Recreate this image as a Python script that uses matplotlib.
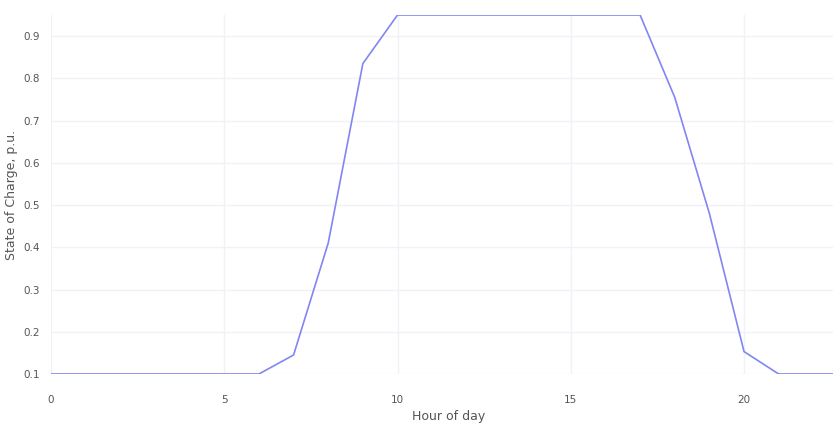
import matplotlib.pyplot as plt

hours = list(range(24))
soc = [0.1, 0.1, 0.1, 0.1, 0.1, 0.1, 0.1, 0.145, 0.41, 0.835,
       0.95, 0.95, 0.95, 0.95, 0.95, 0.95, 0.95, 0.95, 0.755, 0.48,
       0.153, 0.1, 0.1, 0.1]

x_ticks = [0, 5, 10, 15, 20]
y_ticks = [0.1, 0.2, 0.3, 0.4, 0.5, 0.6, 0.7, 0.8, 0.9]

fig = plt.figure(figsize=(8.33, 4.28), dpi=100)
# plot area runs past the right edge, as in the reference
ax = fig.add_axes([51 / 833, 54 / 428, 797 / 833, 359 / 428])

ax.plot(hours, soc, color="#8186f2", linewidth=1.2)

ax.set_xlim(0, 23)
ax.set_ylim(0.1, 0.95)
ax.set_xticks(x_ticks)
ax.set_yticks(y_ticks)
ax.set_xticklabels([str(t) for t in x_ticks])
ax.set_yticklabels([f"{t:.1f}" for t in y_ticks])

ax.grid(True, color="#f1f2f7", linewidth=1.0)
ax.set_axisbelow(True)
for s in ax.spines.values():
    s.set_visible(False)
ax.tick_params(axis="both", length=0, labelsize=7.5, colors="#555555")
ax.tick_params(axis="x", pad=15)
ax.tick_params(axis="y", pad=8)

ax.set_xlabel("Hour of day", fontsize=9, color="#555555")
ax.set_ylabel("State of Charge, p.u.", fontsize=9, color="#555555")
ax.xaxis.set_label_coords((449 - 51) / 797, -36 / 359)
ax.yaxis.set_label_coords(-33 / 797, 0.5)

fig.savefig("out.png", dpi=100)
